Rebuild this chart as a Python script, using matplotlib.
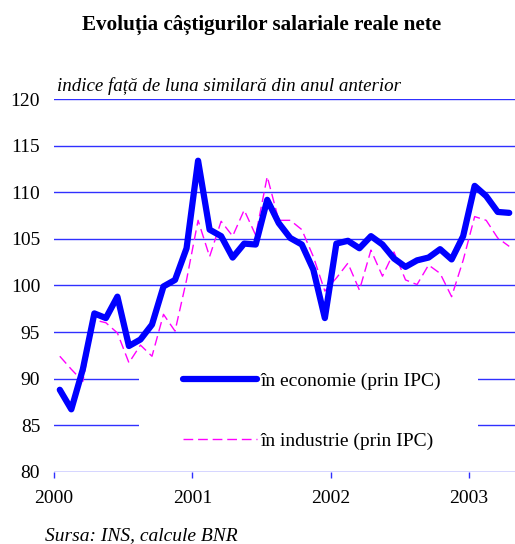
import matplotlib
matplotlib.use("Agg")
import matplotlib.pyplot as plt
from matplotlib.patches import Rectangle

plt.rcParams['font.family'] = ['Liberation Serif', 'DejaVu Serif']

# monthly data, Jan 2000 - Apr 2003
economie = [88.8, 86.7, 91.0, 97.0, 96.5, 98.8, 93.5, 94.2, 95.8, 99.9,
            100.6, 104.0, 113.4, 106.0, 105.3, 103.0, 104.5, 104.4, 109.2, 106.7,
            105.1, 104.4, 101.7, 96.5, 104.5, 104.8, 104.0, 105.3, 104.4, 102.9,
            102.0, 102.7, 103.0, 103.9, 102.8, 105.3, 110.7, 109.6, 107.9, 107.8]
industrie = [92.4, 91.0, 89.7, 96.3, 96.0, 94.9, 91.7, 93.6, 92.4, 96.9,
             95.1, 100.6, 107.0, 103.1, 106.9, 105.3, 108.1, 105.4, 111.7, 107.0,
             107.0, 106.0, 103.1, 99.4, 100.8, 102.4, 99.5, 103.8, 101.0, 103.6,
             100.6, 100.1, 102.2, 101.3, 98.8, 102.7, 107.4, 107.0, 105.1, 104.2]
years = ['2000', '2001', '2002', '2003']
yticks = [80, 85, 90, 95, 100, 105, 110, 115, 120]

x = [i + 0.5 for i in range(len(economie))]

fig = plt.figure(figsize=(5.15, 5.44), dpi=100)
ax = fig.add_axes([0.1049, 0.1329, 0.8951, 0.6846])

for v in yticks:
    ax.axhline(v, color='#3030ff', lw=1.0, zorder=1)

# white legend background
ax.add_patch(Rectangle((0.184, 0.058), 0.736, 0.245, transform=ax.transAxes,
                       facecolor='white', edgecolor='none', zorder=2))

ax.plot(x, industrie, color='#ff00ff', lw=1.0, dashes=(7, 3.5), zorder=3,
        label='în industrie (prin IPC)')
ax.plot(x, economie, color='#0000ff', lw=4.5, solid_joinstyle='round',
        solid_capstyle='round', zorder=4, label='în economie (prin IPC)')

ax.set_xlim(0, 40)
ax.set_ylim(80, 120)
ax.set_yticks(yticks)
ax.set_xticks([0, 12, 24, 36])
ax.set_xticklabels(years)
ax.tick_params(axis='y', length=0, pad=10, labelsize=14)
ax.tick_params(axis='x', length=4.3, width=1, color='#3030ff', pad=9, labelsize=14)
for s in ax.spines.values():
    s.set_visible(False)

h, l = ax.get_legend_handles_labels()
leg = ax.legend([h[1], h[0]], [l[1], l[0]], loc='upper left',
                bbox_to_anchor=(0.28, 0.268), frameon=False, fontsize=14,
                handlelength=3.8, handletextpad=0.2, labelspacing=2.2,
                borderpad=0, borderaxespad=0)
leg.set_zorder(5)

fig.text(0.508, 0.945, 'Evoluția câștigurilor salariale reale nete',
         ha='center', va='baseline', fontsize=15.2, fontweight='bold')
fig.text(0.11, 0.832, 'indice față de luna similară din anul anterior',
         ha='left', va='baseline', fontsize=13.7, style='italic')
fig.text(0.087, 0.008, 'Sursa: INS, calcule BNR',
         ha='left', va='baseline', fontsize=14, style='italic')

fig.savefig('out.png', dpi=100)
